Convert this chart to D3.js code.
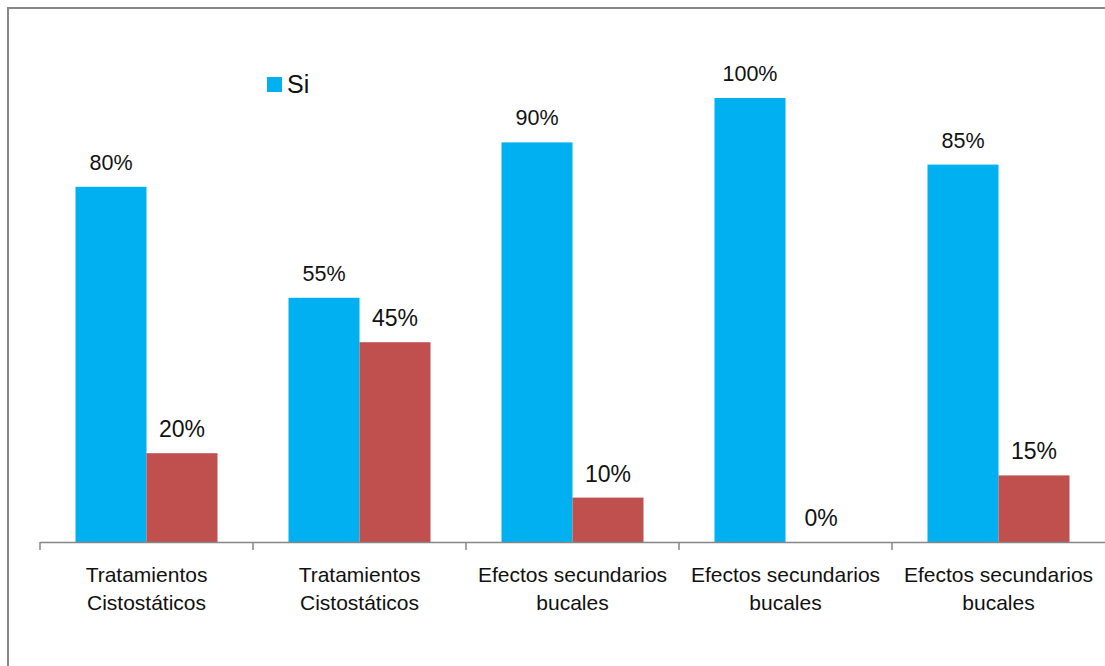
<!DOCTYPE html>
<html>
<head>
<meta charset="utf-8">
<script src="https://cdn.jsdelivr.net/npm/d3@7"></script>
<style>
  body { margin: 0; background: #fff; }
  text { font-family: "Liberation Sans", Arial, sans-serif; fill: #111; }
</style>
</head>
<body>
<svg width="1105" height="666"></svg>
<script>
const categories = [
  ["Tratamientos", "Cistostáticos"],
  ["Tratamientos", "Cistostáticos"],
  ["Efectos secundarios", "bucales"],
  ["Efectos secundarios", "bucales"],
  ["Efectos secundarios", "bucales"]
];
const siValues = [80, 55, 90, 100, 85];
const noValues = [20, 45, 10, 0, 15];
const seriesNames = ["Si", "No"];
const colors = { Si: "#00B0F0", No: "#C0504D" };
const labelSize = { Si: 21.5, No: 23 }; // red labels are drawn a bit bigger

const svg = d3.select("svg");

// outer chart border (runs off the right and bottom edge)
svg.append("rect")
  .attr("x", 8).attr("y", 8)
  .attr("width", 1300).attr("height", 900)
  .attr("fill", "none")
  .attr("stroke", "#878787")
  .attr("stroke-width", 2);

const data = categories.map((c, i) => ({ i, label: c, Si: siValues[i], No: noValues[i] }));

const x = d3.scaleBand()
  .domain(data.map((d) => d.i))
  .range([40, 1105]);

const bw = x.bandwidth();
const x1 = d3.scaleBand()
  .domain(seriesNames)
  .range([bw / 6, bw - bw / 6]);

const y = d3.scaleLinear()
  .domain([0, 100])
  .range([542, 98]);

// bars
const groups = svg.selectAll("g.grp")
  .data(data)
  .enter()
  .append("g")
  .attr("class", "grp")
  .attr("transform", (d) => `translate(${x(d.i)},0)`);

groups.selectAll("rect")
  .data((d) => seriesNames.map((k) => ({ k, v: d[k] })))
  .enter()
  .append("rect")
  .attr("x", (d) => x1(d.k))
  .attr("y", (d) => y(d.v))
  .attr("width", x1.bandwidth())
  .attr("height", (d) => y(0) - y(d.v))
  .attr("fill", (d) => colors[d.k]);

groups.selectAll("text.val")
  .data((d) => seriesNames.map((k) => ({ k, v: d[k] })))
  .enter()
  .append("text")
  .attr("class", "val")
  .attr("x", (d) => x1(d.k) + x1.bandwidth() / 2)
  .attr("y", (d) => y(d.v) - (d.k === "Si" ? 17 : 16))
  .attr("text-anchor", "middle")
  .attr("font-size", (d) => labelSize[d.k])
  .text((d) => d.v + "%");

// category axis
svg.append("line")
  .attr("x1", 40).attr("x2", 1105)
  .attr("y1", y(0) + 0.5).attr("y2", y(0) + 0.5)
  .attr("stroke", "#868686")
  .attr("stroke-width", 1.5);

svg.selectAll("line.tick")
  .data(data.map((d) => x(d.i)))
  .enter()
  .append("line")
  .attr("class", "tick")
  .attr("x1", (d) => d).attr("x2", (d) => d)
  .attr("y1", y(0)).attr("y2", y(0) + 8)
  .attr("stroke", "#868686")
  .attr("stroke-width", 1.5);

const lbl = svg.selectAll("text.cat")
  .data(data)
  .enter()
  .append("text")
  .attr("class", "cat")
  .attr("text-anchor", "middle")
  .attr("font-size", 21)
  .attr("transform", (d) => `translate(${x(d.i) + bw / 2},582)`);

lbl.selectAll("tspan")
  .data((d) => d.label)
  .enter()
  .append("tspan")
  .attr("x", 0)
  .attr("dy", (d, j) => (j === 0 ? 0 : 28))
  .text((d) => d);

// legend (only the first entry is visible)
const leg = svg.append("g").attr("transform", "translate(267,77)");
leg.append("rect")
  .attr("width", 15).attr("height", 15)
  .attr("fill", colors.Si);
leg.append("text")
  .attr("x", 20).attr("y", 16)
  .attr("font-size", 25)
  .text(seriesNames[0]);
</script>
</body>
</html>
